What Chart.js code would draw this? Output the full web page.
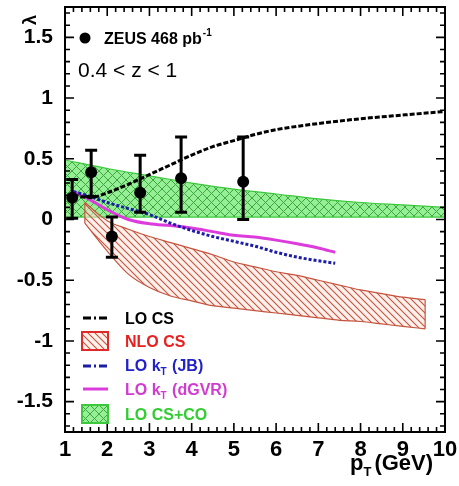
<!DOCTYPE html>
<html>
<head>
<meta charset="utf-8">
<script src="https://cdn.jsdelivr.net/npm/chart.js@4.4.1/dist/chart.umd.min.js"></script>
<style>
  html, body { margin: 0; padding: 0; background: #fff; }
  canvas { display: block; }
</style>
</head>
<body>
<canvas id="c" width="459" height="486" style="width:459px;height:486px"></canvas>
<script>
// ZEUS measurement: lambda vs p_T, 0.4 < z < 1
const ptX      = [1.17, 1.62, 2.11, 2.78, 3.75, 5.22];
const ptY      = [0.18, 0.39, -0.14, 0.22, 0.34, 0.31];
const errPlus  = [0.15, 0.18, 0.16, 0.31, 0.34, 0.37];
const errMinus = [0.17, 0.20, 0.17, 0.16, 0.28, 0.31];

// LO colour-singlet
const csX = [1.2, 1.6, 2.0, 2.5, 3.0, 3.5, 4.0, 4.5, 5.0, 5.5, 6.0, 7.0, 8.0, 9.0, 10.0];
const csY = [0.20, 0.18, 0.22, 0.29, 0.37, 0.45, 0.53, 0.60, 0.65, 0.70, 0.74, 0.79, 0.83, 0.86, 0.89];

// NLO colour-singlet band
const nloX   = [1.47, 2.0, 2.5, 3.0, 3.5, 4.0, 4.5, 5.0, 5.5, 6.0, 6.5, 7.0, 7.5, 8.0, 8.5, 9.0, 9.53];
const nloUp  = [0.14, -0.01, -0.08, -0.14, -0.19, -0.24, -0.29, -0.35, -0.39, -0.43, -0.46, -0.50, -0.54, -0.58, -0.61, -0.64, -0.66];
const nloLow = [-0.03, -0.26, -0.45, -0.56, -0.63, -0.67, -0.71, -0.73, -0.75, -0.77, -0.79, -0.81, -0.83, -0.84, -0.86, -0.88, -0.90];

// LO k_T factorisation curves
const ktX    = [1.2, 1.5, 2.0, 2.5, 3.0, 3.5, 4.0, 4.5, 5.0, 5.5, 6.0, 6.5, 7.0, 7.4];
const jbY    = [0.23, 0.20, 0.14, 0.09, 0.04, -0.03, -0.09, -0.14, -0.18, -0.22, -0.27, -0.31, -0.34, -0.36];
const dgvrY  = [0.23, 0.18, 0.08, 0.00, -0.035, -0.05, -0.07, -0.10, -0.13, -0.145, -0.17, -0.20, -0.235, -0.27];

// LO colour-singlet + colour-octet band
const coX   = [1, 2, 3, 4, 5, 6, 7, 8, 9, 10];
const coUp  = [0.49, 0.42, 0.36, 0.30, 0.25, 0.21, 0.17, 0.14, 0.12, 0.10];
const coLow = [0.02, 0.02, 0.02, 0.02, 0.02, 0.02, 0.02, 0.02, 0.02, 0.02];

// axis ticks
const xTicks = [1, 2, 3, 4, 5, 6, 7, 8, 9, 10];
const xTickLabels = ['1', '2', '3', '4', '5', '6', '7', '8', '9', '10'];
const yTicks = [-1.5, -1, -0.5, 0, 0.5, 1, 1.5];
const yTickLabels = ['-1.5', '-1', '-0.5', '0', '0.5', '1', '1.5'];

const FONT = '"Liberation Sans", Arial, Helvetica, sans-serif';

function hatchPattern(size, bg, fg, dirs, lw) {
  const c = document.createElement('canvas');
  c.width = size; c.height = size;
  const g = c.getContext('2d');
  if (bg) { g.fillStyle = bg; g.fillRect(0, 0, size, size); }
  g.strokeStyle = fg; g.lineWidth = lw;
  g.beginPath();
  if (dirs.includes('\\')) {
    g.moveTo(-1, -1); g.lineTo(size + 1, size + 1);
    g.moveTo(-1, size - 1); g.lineTo(1, size + 1);
    g.moveTo(size - 1, -1); g.lineTo(size + 1, 1);
  }
  if (dirs.includes('/')) {
    g.moveTo(-1, size + 1); g.lineTo(size + 1, -1);
    g.moveTo(-1, 1); g.lineTo(1, -1);
    g.moveTo(size - 1, size + 1); g.lineTo(size + 1, size - 1);
  }
  g.stroke();
  return g.createPattern(c, 'repeat');
}

const ctx = document.getElementById('c').getContext('2d');
const redHatch = hatchPattern(7, 'rgba(255,228,220,0.55)', 'rgb(196,84,62)', ['\\'], 1.1);
const greenHatch = hatchPattern(9, 'rgb(150,238,150)', 'rgb(60,168,60)', ['\\', '/'], 1);

const pts = (xs, ys) => xs.map((x, i) => ({ x: x, y: ys[i] }));

const RED = 'rgb(196,84,62)';
const GREEN = 'rgb(60,200,60)';
const BLUE = '#1c1ca6';
const MAGENTA = '#dc3cdc';

// frame, inner ticks, error bars and text
const decorations = {
  id: 'decorations',
  afterDatasetsDraw(chart) {
    const c = chart.ctx;
    const xs = chart.scales.x, ys = chart.scales.y;
    const a = chart.chartArea;

    // NLO band end edges
    c.save();
    c.strokeStyle = RED; c.lineWidth = 1.2;
    [0, nloX.length - 1].forEach(i => {
      const px = xs.getPixelForValue(nloX[i]);
      c.beginPath();
      c.moveTo(px, ys.getPixelForValue(nloUp[i]));
      c.lineTo(px, ys.getPixelForValue(nloLow[i]));
      c.stroke();
    });
    c.restore();

    // error bars
    c.save();
    c.strokeStyle = '#000'; c.lineWidth = 3;
    ptX.forEach((x, i) => {
      const px = xs.getPixelForValue(x);
      const top = ys.getPixelForValue(ptY[i] + errPlus[i]);
      const bot = ys.getPixelForValue(ptY[i] - errMinus[i]);
      c.beginPath();
      c.moveTo(px, top); c.lineTo(px, bot);
      c.moveTo(px - 6, top); c.lineTo(px + 6, top);
      c.moveTo(px - 6, bot); c.lineTo(px + 6, bot);
      c.stroke();
    });
    c.restore();

    // frame
    c.save();
    c.strokeStyle = '#000'; c.lineWidth = 2;
    c.strokeRect(a.left, a.top, a.right - a.left, a.bottom - a.top);

    // ticks on all four sides, pointing inwards
    c.lineWidth = 1.6;
    c.beginPath();
    for (let k = 0; k <= 45; k++) {
      const v = 1 + k * 0.2;
      const major = Math.abs(v - Math.round(v)) < 1e-6;
      const len = major ? 9 : 5;
      const px = xs.getPixelForValue(v);
      c.moveTo(px, a.bottom); c.lineTo(px, a.bottom - len);
      c.moveTo(px, a.top); c.lineTo(px, a.top + len);
    }
    for (let k = -17; k <= 17; k++) {
      const v = k * 0.1;
      const major = k % 5 === 0;
      const len = major ? 9 : 5;
      const py = ys.getPixelForValue(v);
      c.moveTo(a.left, py); c.lineTo(a.left + len, py);
      c.moveTo(a.right, py); c.lineTo(a.right - len, py);
    }
    c.stroke();
    c.restore();

    // text
    c.save();
    c.fillStyle = '#000';
    c.textBaseline = 'alphabetic';
    // data marker entry
    c.beginPath(); c.arc(85, 38, 5.5, 0, Math.PI * 2); c.fill();
    c.font = 'bold 16px ' + FONT;
    c.fillText('ZEUS 468 pb', 104, 44);
    let w = c.measureText('ZEUS 468 pb').width;
    c.font = 'bold 10px ' + FONT;
    c.fillText('-1', 104 + w + 1, 36);

    c.font = '21px ' + FONT;
    c.fillText('0.4 < z < 1', 78, 77);

    // y title
    c.save();
    c.translate(31, 20);
    c.rotate(-Math.PI / 2);
    c.font = 'bold 18px ' + FONT;
    c.textAlign = 'center';
    c.textBaseline = 'middle';
    c.fillText('\u03bb', 0, 0);
    c.restore();

    // x title
    c.font = 'bold 22px ' + FONT;
    c.fillText('p', 350, 470);
    let xw = 350 + c.measureText('p').width;
    c.font = 'bold 13px ' + FONT;
    c.fillText('T', xw, 476);
    xw += c.measureText('T').width + 3;
    c.font = 'bold 22px ' + FONT;
    c.fillText('(GeV)', xw, 470);

    // legend
    const tx = 125;
    function entryText(txt, color, y, sub, rest) {
      c.fillStyle = color;
      c.font = 'bold 16px ' + FONT;
      c.fillText(txt, tx, y);
      if (sub) {
        let p = tx + c.measureText(txt).width;
        c.font = 'bold 10px ' + FONT;
        c.fillText(sub, p, y + 4);
        p += c.measureText(sub).width + 1;
        c.font = 'bold 16px ' + FONT;
        c.fillText(rest, p, y);
      }
    }
    // LO CS
    c.strokeStyle = '#000'; c.lineWidth = 3; c.setLineDash([8, 3, 2, 3]);
    c.beginPath(); c.moveTo(83, 318); c.lineTo(108, 318); c.stroke();
    entryText('LO CS', '#000', 324);
    // NLO CS
    c.setLineDash([]);
    c.fillStyle = redHatch; c.fillRect(82, 332, 26, 18);
    c.strokeStyle = '#e02a2a'; c.lineWidth = 2; c.strokeRect(82, 332, 26, 18);
    entryText('NLO CS', '#e82020', 347);
    // LO kT (JB)
    c.strokeStyle = BLUE; c.lineWidth = 3; c.setLineDash([8, 3, 2, 3]);
    c.beginPath(); c.moveTo(83, 366); c.lineTo(108, 366); c.stroke();
    c.setLineDash([]);
    entryText('LO k', '#2222c8', 371, 'T', ' (JB)');
    // LO kT (dGVR)
    c.strokeStyle = MAGENTA; c.lineWidth = 3;
    c.beginPath(); c.moveTo(83, 389); c.lineTo(108, 389); c.stroke();
    entryText('LO k', '#d03cd0', 395, 'T', ' (dGVR)');
    // LO CS+CO
    c.fillStyle = greenHatch; c.fillRect(82, 405, 26, 18);
    c.strokeStyle = GREEN; c.lineWidth = 2; c.strokeRect(82, 405, 26, 18);
    entryText('LO CS+CO', '#33cc33', 420);
    c.restore();
  }
};

new Chart(ctx, {
  type: 'line',
  data: {
    datasets: [
      { label: 'ZEUS', data: pts(ptX, ptY), showLine: false, pointRadius: 6,
        pointBackgroundColor: '#000', pointBorderColor: '#000', pointBorderWidth: 0, order: 0 },
      { label: 'LO CS', data: pts(csX, csY), borderColor: '#000', borderWidth: 3,
        borderDash: [5, 2], pointRadius: 0, fill: false, cubicInterpolationMode: 'monotone', order: 1 },
      { label: 'LO kT (JB)', data: pts(ktX, jbY), borderColor: BLUE, borderWidth: 3,
        borderDash: [3, 2], pointRadius: 0, fill: false, cubicInterpolationMode: 'monotone', order: 2 },
      { label: 'LO kT (dGVR)', data: pts(ktX, dgvrY), borderColor: MAGENTA, borderWidth: 3,
        pointRadius: 0, fill: false, cubicInterpolationMode: 'monotone', order: 3 },
      { label: 'NLO CS low', data: pts(nloX, nloLow), borderColor: RED, borderWidth: 1.2,
        pointRadius: 0, fill: false, cubicInterpolationMode: 'monotone', order: 4 },
      { label: 'NLO CS', data: pts(nloX, nloUp), borderColor: RED, borderWidth: 1.2,
        pointRadius: 0, backgroundColor: redHatch, fill: { target: 4 },
        cubicInterpolationMode: 'monotone', order: 4 },
      { label: 'LO CS+CO low', data: pts(coX, coLow), borderColor: GREEN, borderWidth: 1.2,
        pointRadius: 0, fill: false, cubicInterpolationMode: 'monotone', order: 6 },
      { label: 'LO CS+CO', data: pts(coX, coUp), borderColor: GREEN, borderWidth: 1.2,
        pointRadius: 0, backgroundColor: greenHatch, fill: { target: 6 },
        cubicInterpolationMode: 'monotone', order: 6 }
    ]
  },
  options: {
    responsive: false,
    devicePixelRatio: 1,
    animation: false,
    layout: { padding: { left: 0, top: 7, right: 14, bottom: 0 }, autoPadding: false },
    plugins: { legend: { display: false }, tooltip: { enabled: false } },
    scales: {
      x: {
        type: 'linear', min: 1, max: 10,
        grid: { display: false, drawTicks: false },
        border: { display: false },
        ticks: {
          padding: 5, color: '#000', font: { family: FONT, size: 22, weight: 'bold' },
          maxRotation: 0, autoSkip: false,
          callback: (v) => { const i = xTicks.indexOf(v); return i >= 0 ? xTickLabels[i] : ''; }
        },
        afterBuildTicks: (s) => { s.ticks = xTicks.map(v => ({ value: v })); },
        afterFit: (s) => { s.height = 54; s.paddingLeft = 0; s.paddingRight = 0; }
      },
      y: {
        type: 'linear', min: -1.75, max: 1.75,
        grid: { display: false, drawTicks: false },
        border: { display: false },
        ticks: {
          padding: 12, color: '#000', font: { family: FONT, size: 21, weight: 'bold' },
          autoSkip: false,
          callback: (v) => { const i = yTicks.indexOf(v); return i >= 0 ? yTickLabels[i] : ''; }
        },
        afterBuildTicks: (s) => { s.ticks = yTicks.map(v => ({ value: v })); },
        afterFit: (s) => { s.width = 65; s.paddingTop = 0; s.paddingBottom = 0; }
      }
    }
  },
  plugins: [decorations]
});
</script>
</body>
</html>
